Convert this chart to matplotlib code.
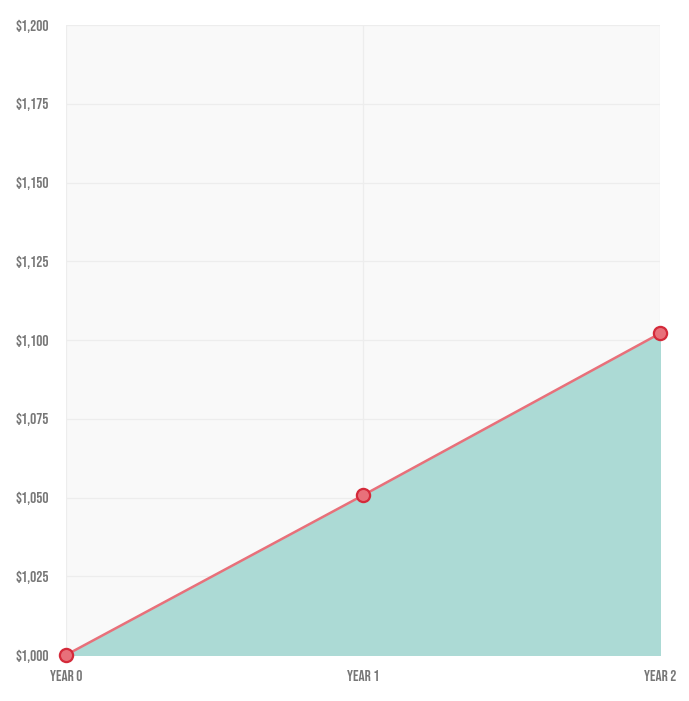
import matplotlib.pyplot as plt
import matplotlib as mpl
from matplotlib.ticker import FuncFormatter

mpl.rcParams.update({
    "font.family": ["Bebas Neue", "Oswald", "Fira Sans Extra Condensed", "DejaVu Sans"],
    "font.weight": "bold",
})

years = ["YEAR 0", "YEAR 1", "YEAR 2"]
balance = [1000, 1050.7, 1102.1]
y_ticks = [1000, 1025, 1050, 1075, 1100, 1125, 1150, 1175, 1200]

fig = plt.figure(figsize=(6.89, 7.01), dpi=100)
ax = fig.add_axes([66 / 689, 46 / 701, 594 / 689, 630 / 701])
ax.set_facecolor("#f9f9f9")

x = list(range(len(years)))
ax.fill_between(x, 1000, balance, color="#acdad5", zorder=2)
ax.plot(x, balance, color="#e8707a", lw=1.8, zorder=3)
ax.plot(x, balance, "o", ms=9.5, mfc="#e8707a", mec="#d42a3a", mew=1.6,
        zorder=4, clip_on=False)

ax.set_xlim(0, 2)
ax.set_ylim(1000, 1200)
ax.set_xticks(x)
ax.set_xticklabels(years)
ax.set_yticks(y_ticks)
ax.yaxis.set_major_formatter(FuncFormatter(lambda v, p: f"${v:,.0f}"))

ax.grid(True, color="#ededed", lw=0.9, zorder=1)
ax.set_axisbelow(True)
for s in ax.spines.values():
    s.set_visible(False)
ax.tick_params(length=0, labelsize=11, labelcolor="#777777")
ax.tick_params(axis="y", pad=12)
ax.tick_params(axis="x", pad=10.5)

fig.savefig("out.png", dpi=100)
